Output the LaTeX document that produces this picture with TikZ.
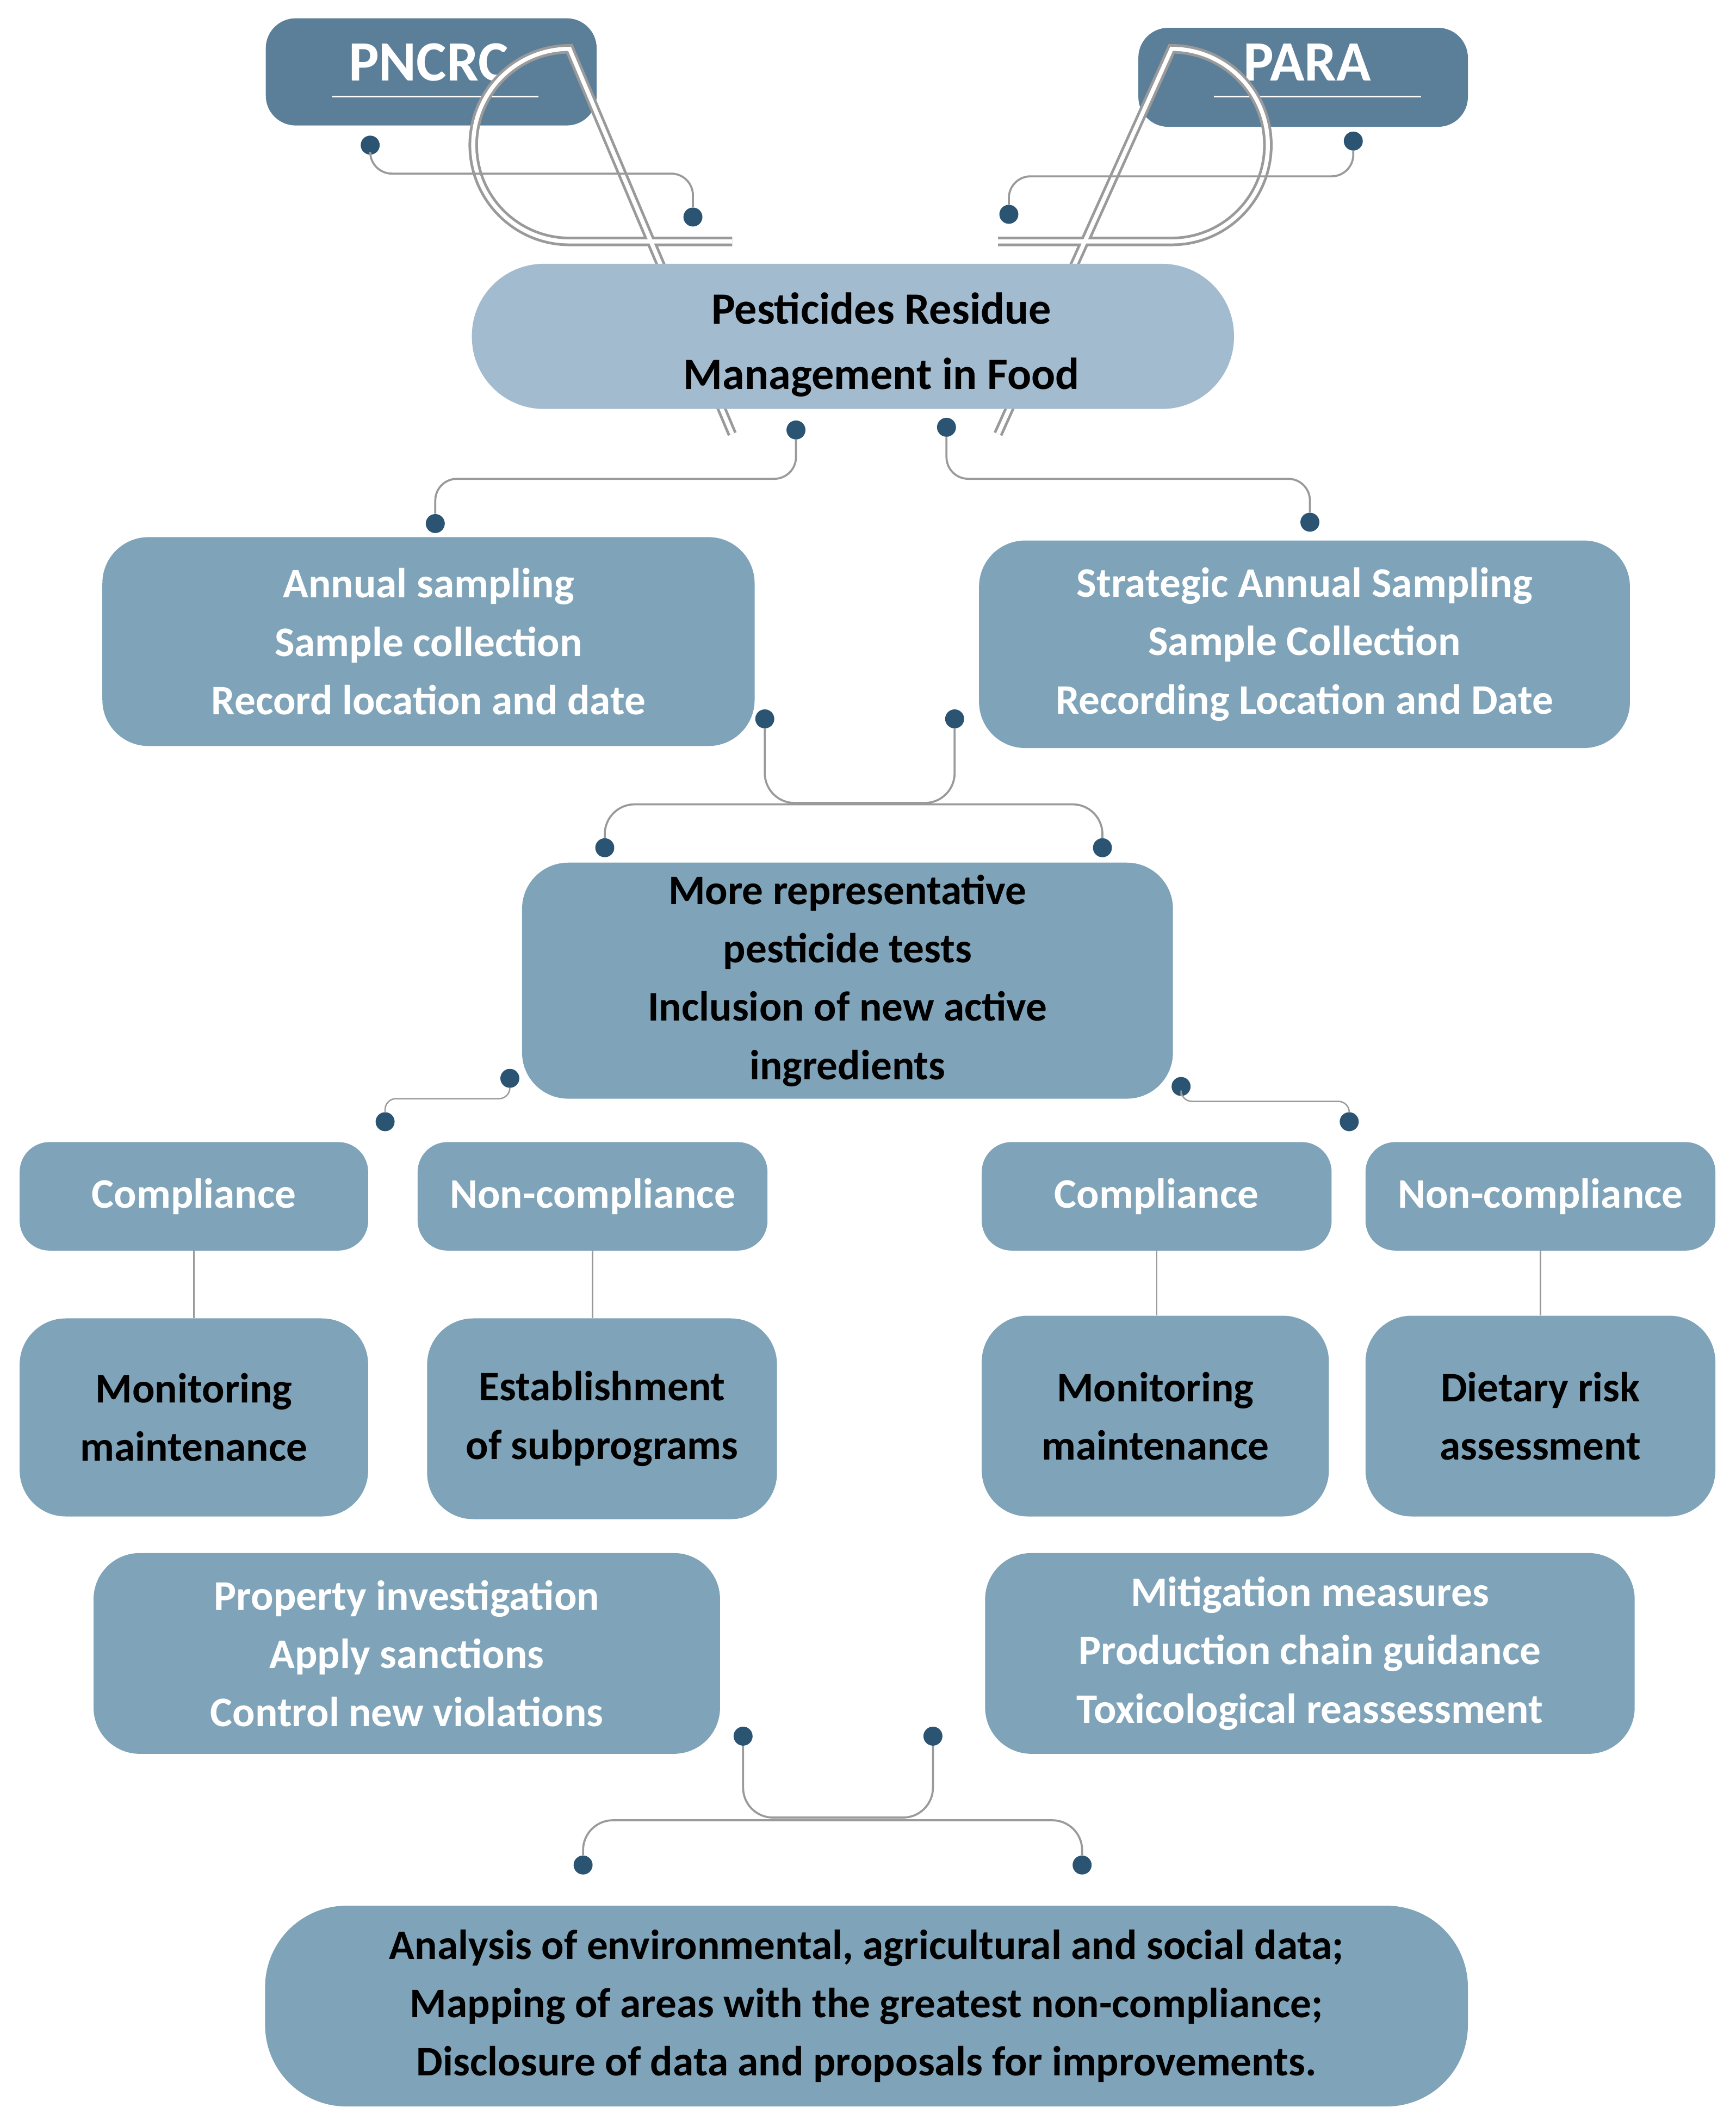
\documentclass[tikz,border=0pt]{standalone}
\usepackage{fontspec}
\setmainfont{Carlito}
\begin{document}
\begin{tikzpicture}[x=1pt,y=-1pt,
  box/.style={fill=boxc,rounded corners=34pt,inner sep=0pt,align=center,font=\fontsize{31}{43}\selectfont\bfseries},
  top/.style={fill=topc,rounded corners=22pt,inner sep=0pt,text=white,font=\fontsize{42}{46}\selectfont\bfseries},
  dot/.style={circle,fill=dotc,inner sep=0pt,minimum size=14pt},
  con/.style={draw=linec,line width=2pt,rounded corners=16pt},
  lnk/.style={draw=linec,line width=1pt}]
\definecolor{boxc}{HTML}{7FA3B8}
\definecolor{topc}{HTML}{5B7F99}
\definecolor{midc}{HTML}{A2BBCF}
\definecolor{dotc}{HTML}{2B5473}
\definecolor{linec}{HTML}{9A9A9A}
\useasboundingbox (0,0) rectangle (1280,1563);
% top boxes
\node[top,minimum width=244pt,minimum height=79pt] (pn) at (318,53) {};
\node[text=white,font=\fontsize{42}{46}\selectfont\bfseries] (pnt) at (316,46) {PNCRC};
\draw[white,line width=1.2pt] (245,71) -- (397,71);
\node[top,minimum width=243pt,minimum height=73pt] (pa) at (961,57) {};
\node[text=white,font=\fontsize{42}{46}\selectfont\bfseries] (pat) at (964,46) {PARA};
\draw[white,line width=1.2pt] (895,71) -- (1048,71);
% ring
\draw[linec,line width=7pt] (540,178) -- (420,178) arc[start angle=90,end angle=270,radius=71] -- (540,320);
\draw[white,line width=3pt] (540,178) -- (420,178) arc[start angle=90,end angle=270,radius=71] -- (540,320);
\draw[linec,line width=7pt] (736,178) -- (864,178) arc[start angle=90,end angle=-90,radius=71] -- (736,320);
\draw[white,line width=3pt] (736,178) -- (864,178) arc[start angle=90,end angle=-90,radius=71] -- (736,320);
\node[fill=midc,rounded corners=53pt,minimum width=562pt,minimum height=107pt,inner sep=0pt] (c) at (629,248) {};
\node[align=center,font=\fontsize{33}{48}\selectfont\bfseries] (ct) at (650,254) {Pesticides Residue\\Management in Food};
% boxes
\node[box,text=white,minimum width=481pt,minimum height=154pt] (an) at (316,473) {Annual sampling\\Sample collection\\Record location and date};
\node[box,text=white,minimum width=480pt,minimum height=153pt] (st) at (962,475) {Strategic Annual Sampling\\Sample Collection\\Recording Location and Date};
\node[box,minimum width=480pt,minimum height=174pt] (mr) at (625,723) {More representative\\pesticide tests\\Inclusion of new active\\ingredients};
\node[box,text=white,rounded corners=22pt,minimum width=257pt,minimum height=80pt] (c1) at (143,882) {Compliance};
\node[box,text=white,rounded corners=22pt,minimum width=258pt,minimum height=80pt] (n1) at (437,882) {Non-compliance};
\node[box,text=white,rounded corners=22pt,minimum width=258pt,minimum height=80pt] (c2) at (853,882) {Compliance};
\node[box,text=white,rounded corners=22pt,minimum width=258pt,minimum height=80pt] (n2) at (1136,882) {Non-compliance};
\node[box,minimum width=257pt,minimum height=146pt] (m1) at (143,1045) {Monitoring\\maintenance};
\node[box,minimum width=258pt,minimum height=148pt] (e1) at (444,1046) {Establishment\\of subprograms};
\node[box,minimum width=256pt,minimum height=148pt] (m2) at (852,1044) {Monitoring\\maintenance};
\node[box,minimum width=258pt,minimum height=148pt] (d2) at (1136,1044) {Dietary risk\\assessment};
\node[box,text=white,minimum width=462pt,minimum height=148pt] (pr) at (300,1219) {Property investigation\\Apply sanctions\\Control new violations};
\node[box,text=white,minimum width=479pt,minimum height=148pt] (mi) at (966,1219) {Mitigation measures\\Production chain guidance\\Toxicological reassessment};
\node[box,rounded corners=60pt,minimum width=887pt,minimum height=148pt] (bt) at (639,1479) {Analysis of environmental, agricultural and social data;\\Mapping of areas with the greatest non-compliance;\\Disclosure of data and proposals for improvements.};
% vertical links
\draw[lnk] (c1) -- (m1); \draw[lnk] (n1.south) -- (n1.south|-e1.north);
\draw[lnk] (c2.south) -- (c2.south|-m2.north); \draw[lnk] (n2) -- (d2);
% dots
\node[dot] (a1) at (273,107) {}; \node[dot] (a2) at (511,160) {};
\node[dot] (b1) at (998,104) {}; \node[dot] (b2) at (744,158) {};
\node[dot] (g1) at (587,317) {}; \node[dot] (g2) at (321,386) {};
\node[dot] (h1) at (698,315) {}; \node[dot] (h2) at (966,385) {};
\node[dot] (u1) at (564,530) {}; \node[dot] (u2) at (704,530) {};
\node[dot] (v1) at (446,625) {}; \node[dot] (v2) at (813,625) {};
\node[dot] (w1) at (376,795) {}; \node[dot] (w2) at (284,827) {};
\node[dot] (x1) at (871,801) {}; \node[dot] (x2) at (995,827) {};
\node[dot] (y1) at (548,1280) {}; \node[dot] (y2) at (688,1280) {};
\node[dot] (z1) at (430,1375) {}; \node[dot] (z2) at (798,1375) {};
% connectors
\draw[con,line width=1.5pt] (a1) -- (273,128) -- (511,128) -- (a2);
\draw[con,line width=1.5pt] (b1) -- (998,130) -- (744,130) -- (b2);
\draw[con,line width=1.5pt] (g1) -- (587,353) -- (321,353) -- (g2);
\draw[con,line width=1.5pt] (h1) -- (698,353) -- (966,353) -- (h2);
\draw[con,line width=1.5pt,rounded corners=22pt] (u1) -- (564,592) -- (704,592) -- (u2);
\draw[con,line width=1.5pt,rounded corners=22pt] (v1) -- (446,593) -- (813,593) -- (v2);
\draw[con,line width=1pt,rounded corners=8pt] (w1) -- (376,810) -- (284,810) -- (w2);
\draw[con,line width=1pt,rounded corners=8pt] (x1) -- (871,812) -- (995,812) -- (x2);
\draw[con,line width=1.5pt,rounded corners=22pt] (y1) -- (548,1340) -- (688,1340) -- (y2);
\draw[con,line width=1.5pt,rounded corners=22pt] (z1) -- (430,1342) -- (798,1342) -- (z2);
\end{tikzpicture}
\end{document}
